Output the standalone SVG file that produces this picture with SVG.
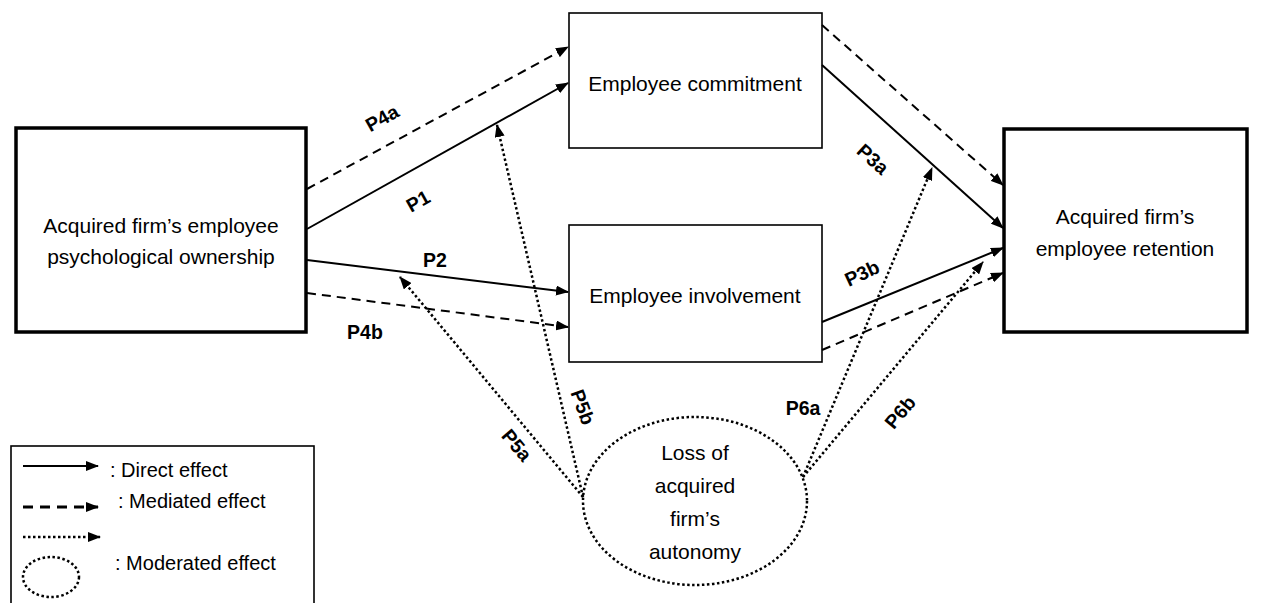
<svg xmlns="http://www.w3.org/2000/svg" width="1263" height="603" viewBox="0 0 1263 603">
<style>
.box{fill:#fff;stroke:#000;stroke-width:1.6}
.bbox{fill:#fff;stroke:#000;stroke-width:3.5}
.t{font-family:"Liberation Sans",Arial,sans-serif;font-size:21px;fill:#000;text-anchor:middle}
.lt{font-family:"Liberation Sans",Arial,sans-serif;font-size:20px;fill:#000}
.lbl{font-family:"Liberation Sans",Arial,sans-serif;font-size:19.5px;font-weight:bold;fill:#000;text-anchor:middle}
.solid{stroke:#000;stroke-width:2;fill:none}
.dash{stroke:#000;stroke-width:2;stroke-dasharray:9 6;fill:none}
.dot{stroke:#000;stroke-width:2.5;stroke-dasharray:2.5 2.5;fill:none}
</style>
<defs>
<marker id="ah" markerUnits="userSpaceOnUse" markerWidth="13" markerHeight="10" refX="12" refY="5" orient="auto">
<path d="M0,0 L13,5 L0,10 z" fill="#000"/>
</marker>
</defs>
<rect width="1263" height="603" fill="#fff"/>

<g id="node-ownership">
<rect class="bbox" x="16" y="128" width="290" height="204"/>
<text class="t" x="161" y="233">Acquired firm’s employee</text>
<text class="t" x="161" y="264">psychological ownership</text>
</g>
<g id="node-commitment">
<rect class="box" x="569" y="13" width="253" height="135"/>
<text class="t" x="695" y="91">Employee commitment</text>
</g>
<g id="node-involvement">
<rect class="box" x="569" y="225" width="253" height="137"/>
<text class="t" x="695" y="303">Employee involvement</text>
</g>
<g id="node-retention">
<rect class="bbox" x="1004" y="129" width="243" height="203"/>
<text class="t" x="1125" y="224">Acquired firm’s</text>
<text class="t" x="1125" y="256">employee retention</text>
</g>
<g id="node-autonomy">
<ellipse class="dot" cx="695" cy="501" rx="112" ry="84" fill="#fff"/>
<text class="t" x="695" y="460">Loss of</text>
<text class="t" x="695" y="493">acquired</text>
<text class="t" x="695" y="526">firm’s</text>
<text class="t" x="695" y="559">autonomy</text>
</g>

<g id="connectors">
<line class="dash" x1="307" y1="189" x2="568" y2="47" marker-end="url(#ah)"/>
<line class="solid" x1="307" y1="229" x2="568" y2="83" marker-end="url(#ah)"/>
<line class="solid" x1="307" y1="260" x2="568" y2="292" marker-end="url(#ah)"/>
<line class="dash" x1="307" y1="293" x2="568" y2="327" marker-end="url(#ah)"/>
<line class="dash" x1="822" y1="25" x2="1003" y2="185" marker-end="url(#ah)"/>
<line class="solid" x1="822" y1="65" x2="1003" y2="228" marker-end="url(#ah)"/>
<line class="solid" x1="822" y1="322" x2="1003" y2="248" marker-end="url(#ah)"/>
<line class="dash" x1="822" y1="350" x2="1003" y2="273" marker-end="url(#ah)"/>
<line class="dot" x1="583" y1="497" x2="400" y2="277" marker-end="url(#ah)"/>
<line class="dot" x1="583" y1="497" x2="497" y2="125" marker-end="url(#ah)"/>
<line class="dot" x1="803" y1="477" x2="932" y2="168" marker-end="url(#ah)"/>
<line class="dot" x1="803" y1="477" x2="983" y2="262" marker-end="url(#ah)"/>
</g>

<g id="labels">
<text class="lbl" transform="translate(382,118) rotate(-29)" y="7">P4a</text>
<text class="lbl" transform="translate(418,201) rotate(-29)" y="7">P1</text>
<text class="lbl" x="435" y="267">P2</text>
<text class="lbl" x="365" y="339">P4b</text>
<text class="lbl" transform="translate(873,159) rotate(42)" y="7">P3a</text>
<text class="lbl" transform="translate(862,273) rotate(-25)" y="7">P3b</text>
<text class="lbl" transform="translate(517,445) rotate(50)" y="7">P5a</text>
<text class="lbl" transform="translate(583,407) rotate(70)" y="7">P5b</text>
<text class="lbl" x="803" y="415">P6a</text>
<text class="lbl" transform="translate(900,412) rotate(-50)" y="7">P6b</text>
</g>

<g id="legend">
<rect class="box" x="11" y="446" width="303" height="170"/>
<line class="solid" x1="23" y1="466" x2="98" y2="466" marker-end="url(#ah)"/>
<text class="lt" x="110" y="477">: Direct effect</text>
<line class="dash" x1="23" y1="507" x2="98" y2="507" style="stroke-width:3;stroke-dasharray:10 7" marker-end="url(#ah)"/>
<text class="lt" x="118" y="508">: Mediated effect</text>
<line class="dot" x1="23" y1="537" x2="100" y2="537" marker-end="url(#ah)"/>
<ellipse class="dot" cx="51" cy="577" rx="28" ry="20"/>
<text class="lt" x="115" y="570">: Moderated effect</text>
</g>
</svg>
